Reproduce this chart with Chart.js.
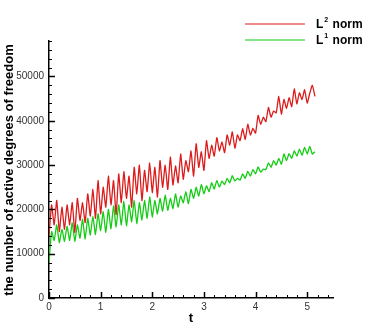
<!DOCTYPE html>
<html>
<head>
<meta charset="utf-8">
<script src="https://cdn.jsdelivr.net/npm/chart.js@4/dist/chart.umd.min.js"></script>
<style>
  html, body { margin: 0; padding: 0; background: #fff; }
  #wrap { width: 378px; height: 336px; position: relative; }
</style>
</head>
<body>
<div id="wrap"><canvas id="dofChart"></canvas></div>
<script>
const l2Norm = [
  14000, 21000, 16500, 22000, 15000, 20500, 15500, 21000, 16500, 21500,
  14800, 22500, 17500, 21500, 17000, 23500, 18500, 24500, 18000, 26500,
  19000, 25000, 20500, 27500, 21000, 26500, 18800, 28000, 21500, 28500,
  22500, 27500, 20500, 29500, 23500, 30000, 22000, 28800, 24000, 30500,
  23800, 29500, 22800, 31000, 25000, 30000, 24500, 31800, 25500, 29800,
  26000, 32500, 26800, 31000, 28500, 33200, 27500, 34800, 29500, 33000,
  28800, 35500, 31500, 34500, 32000, 36200, 33200, 35200, 32800, 36800,
  34500, 37500, 33800, 36800, 35500, 38200, 35800, 39200, 36800, 38300,
  37200, 41200, 39200, 40800, 39800, 43000, 40800, 42200, 41800, 45500,
  41500, 44800, 42800, 45200, 43200, 47200, 43800, 46300, 44800, 47000,
  44000, 46200, 48000, 45500
];
const l1Norm = [
  8000, 15000, 13000, 16500, 12500, 15500, 12800, 16200, 13000, 17000,
  12800, 16500, 13500, 17800, 13300, 18000, 14200, 18500, 14300, 19000,
  15200, 19500, 14800, 20000, 15600, 20800, 16000, 21000, 16500, 21800,
  16300, 21000, 17200, 22000, 16800, 21500, 17600, 22000, 18000, 22800,
  18300, 22000, 19000, 22500, 19600, 23200, 19800, 22500, 20200, 23500,
  20500, 23000, 21500, 24000, 21300, 24500, 22500, 25000, 23000, 25600,
  23500, 25300, 24000, 26000, 24600, 26500, 25000, 26400, 25600, 27000,
  26000, 27600, 26400, 27000, 26600, 28000, 27000, 28600, 27500, 29000,
  28000, 29600, 28400, 29100, 29000, 30500, 29500, 31000, 30000, 31500,
  30200, 32500, 31000, 32600, 31500, 33200, 32000, 33600, 32200, 34000,
  32500, 34200, 32500, 33000
];
const tStep = 0.05;
const xMax = 5.5;
const yMax = 58000;
const xTicks = [0, 1, 2, 3, 4, 5];
const yTicks = [0, 10000, 20000, 30000, 40000, 50000];
const legendItems = [
  { base: "L", sup: "2", rest: " norm", color: "#dc1c1c" },
  { base: "L", sup: "1", rest: " norm", color: "#14cc14" }
];

const toPoints = arr => arr.map((v, i) => ({ x: +(i * tStep).toFixed(2), y: v }));

// inside ticks, axis titles and the legend
const decorPlugin = {
  id: "decor",
  afterDraw(chart) {
    const c = chart.ctx;
    const xs = chart.scales.x, ys = chart.scales.y;
    const left = chart.chartArea.left, bottom = chart.chartArea.bottom;
    c.save();
    c.strokeStyle = "#000";
    // x ticks (minor every 0.2)
    for (let i = 0; i <= 27; i++) {
      const v = i * 0.2;
      const major = Math.abs(v - Math.round(v)) < 1e-6;
      const px = Math.round(xs.getPixelForValue(v)) + 0.5;
      c.beginPath();
      c.lineWidth = major ? 1.5 : 1;
      c.moveTo(px, bottom);
      c.lineTo(px, bottom - (major ? 6 : 3));
      c.stroke();
    }
    // y ticks (minor every 2000)
    for (let i = 0; i <= 29; i++) {
      const v = i * 2000;
      const major = v % 10000 === 0;
      const py = Math.round(ys.getPixelForValue(v)) + 0.5;
      c.beginPath();
      c.lineWidth = major ? 1.5 : 1;
      c.moveTo(left, py);
      c.lineTo(left + (major ? 6 : 3), py);
      c.stroke();
    }
    // axis titles
    c.fillStyle = "#000";
    c.font = "bold 13px 'Liberation Sans', Arial, sans-serif";
    c.textAlign = "center";
    c.textBaseline = "middle";
    c.fillText("t", xs.getPixelForValue(2.75), 318);
    c.translate(9, 170);
    c.rotate(-Math.PI / 2);
    c.font = "bold 13px 'Liberation Sans', Arial, sans-serif";
    c.fillText("the number of active degrees of freedom", 0, 0);
    c.restore();

    // legend
    c.save();
    legendItems.forEach((it, k) => {
      const y = 24 + k * 16;
      c.strokeStyle = it.color;
      c.lineWidth = 1.2;
      c.beginPath();
      c.moveTo(245, y);
      c.lineTo(305, y);
      c.stroke();
      c.fillStyle = "#000";
      c.textBaseline = "middle";
      c.textAlign = "left";
      c.font = "bold 12px 'Liberation Sans', Arial, sans-serif";
      c.fillText(it.base, 316, y + 1);
      const w = c.measureText(it.base).width;
      c.font = "bold 7px 'Liberation Sans', Arial, sans-serif";
      c.fillText(it.sup, 316 + w + 1, y - 4);
      const ws = c.measureText(it.sup).width;
      c.font = "bold 12px 'Liberation Sans', Arial, sans-serif";
      c.fillText(it.rest, 316 + w + ws + 2, y + 1);
    });
    c.restore();
  }
};

new Chart(document.getElementById("dofChart"), {
  type: "line",
  data: {
    datasets: [
      {
        label: "L2 norm",
        data: toPoints(l2Norm),
        borderColor: legendItems[0].color,
        borderWidth: 1.3,
        pointRadius: 0,
        tension: 0.15
      },
      {
        label: "L1 norm",
        data: toPoints(l1Norm),
        borderColor: legendItems[1].color,
        borderWidth: 1.3,
        pointRadius: 0,
        tension: 0.15
      }
    ]
  },
  options: {
    responsive: true,
    maintainAspectRatio: false,
    animation: false,
    layout: { padding: { top: 41, right: 45, left: 0, bottom: 0 } },
    plugins: { legend: { display: false }, tooltip: { enabled: false } },
    scales: {
      x: {
        type: "linear",
        min: 0,
        max: xMax,
        grid: { display: false, drawTicks: false },
        border: { display: true, color: "#000", width: 1.5 },
        afterBuildTicks: s => { s.ticks = xTicks.map(v => ({ value: v })); },
        afterFit: s => { s.height = 38; },
        ticks: {
          padding: 3,
          color: "#333",
          callback: v => String(v),
          font: { family: "'Liberation Sans', Arial, sans-serif", size: 10 }
        }
      },
      y: {
        min: 0,
        max: yMax,
        grid: { display: false, drawTicks: false },
        border: { display: true, color: "#000", width: 1.5 },
        afterBuildTicks: s => { s.ticks = yTicks.map(v => ({ value: v })); },
        afterFit: s => { s.width = 49; },
        ticks: {
          padding: 5,
          color: "#333",
          callback: v => String(v),
          font: { family: "'Liberation Sans', Arial, sans-serif", size: 10 }
        }
      }
    }
  },
  plugins: [decorPlugin]
});
</script>
</body>
</html>
